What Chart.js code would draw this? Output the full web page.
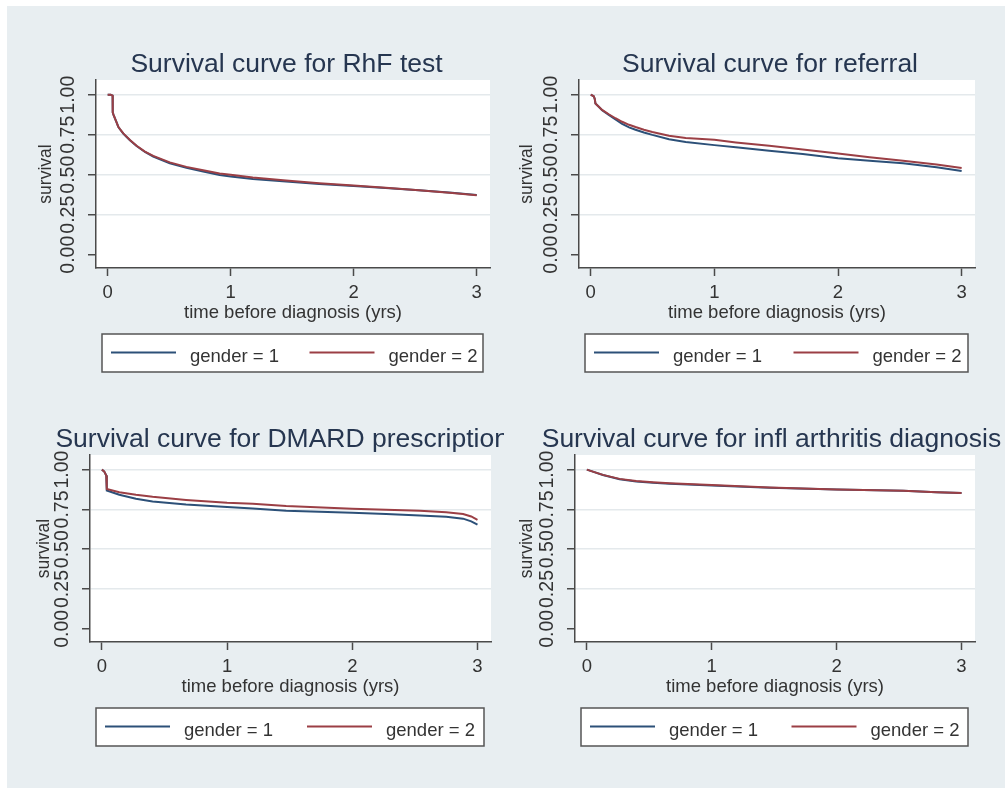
<!DOCTYPE html>
<html>
<head>
<meta charset="utf-8">
<script src="https://cdn.jsdelivr.net/npm/chart.js@4.4.1/dist/chart.umd.min.js"></script>
<style>
  body { margin: 0; background: #fff; }
  #page { position: relative; width: 1006px; height: 791px; overflow: hidden; background: #fff; }
  #bg { position: absolute; left: 7px; top: 6px; width: 998px; height: 782px; background: #e8eef1; }
  canvas { position: absolute; }
</style>
</head>
<body>
<div id="page">
  <div id="bg"></div>
  <canvas id="c1" width="503" height="389" style="left:7px;top:6px"></canvas>
  <canvas id="c2" width="495" height="389" style="left:510px;top:6px"></canvas>
  <canvas id="c3" width="497" height="393" style="left:7px;top:395px"></canvas>
  <canvas id="c4" width="495" height="393" style="left:510px;top:395px"></canvas>
</div>
<script>
// axes
const xTicks = [0, 1, 2, 3];
const yTicks = [0, 0.25, 0.5, 0.75, 1];
const xTitle = 'time before diagnosis (yrs)';
const yTitle = 'survival';
const seriesLabels = ['gender = 1', 'gender = 2'];

// RhF test
const rhfTime = [0, 0.024, 0.04, 0.041, 0.046, 0.059, 0.073, 0.086, 0.1, 0.127, 0.154, 0.181, 0.235, 0.303, 0.37, 0.505, 0.64, 0.776, 0.91, 1.0, 1.18, 1.45, 1.72, 2.0, 2.26, 2.53, 2.8, 3.0];
const rhfGender1 = [1.0, 1.0, 0.994, 0.89, 0.877, 0.852, 0.825, 0.80, 0.784, 0.757, 0.736, 0.715, 0.679, 0.642, 0.614, 0.572, 0.543, 0.52, 0.498, 0.489, 0.474, 0.457, 0.442, 0.430, 0.417, 0.403, 0.387, 0.373];
const rhfGender2 = [1.0, 1.0, 0.994, 0.89, 0.877, 0.852, 0.825, 0.80, 0.785, 0.758, 0.738, 0.717, 0.681, 0.645, 0.618, 0.577, 0.549, 0.528, 0.508, 0.50, 0.483, 0.464, 0.447, 0.432, 0.418, 0.403, 0.386, 0.371];

// referral
const refTime = [0, 0.024, 0.032, 0.038, 0.065, 0.092, 0.146, 0.2, 0.254, 0.31, 0.362, 0.43, 0.498, 0.633, 0.768, 1.0, 1.174, 1.444, 1.715, 2.0, 2.256, 2.526, 2.797, 3.0];
const refGender1 = [1.0, 0.99, 0.975, 0.945, 0.925, 0.903, 0.874, 0.845, 0.818, 0.796, 0.781, 0.764, 0.749, 0.722, 0.704, 0.685, 0.671, 0.65, 0.629, 0.603, 0.588, 0.571, 0.547, 0.523];
const refGender2 = [1.0, 0.99, 0.975, 0.945, 0.925, 0.905, 0.878, 0.853, 0.831, 0.812, 0.798, 0.781, 0.767, 0.744, 0.729, 0.718, 0.702, 0.681, 0.658, 0.633, 0.609, 0.588, 0.564, 0.542];

// DMARD prescription
const dmardTime = [0, 0.019, 0.035, 0.038, 0.04, 0.139, 0.272, 0.405, 0.672, 1.0, 1.205, 1.472, 2.0, 2.27, 2.54, 2.75, 2.885, 2.95, 3.0];
const dmardGender1 = [1.0, 0.988, 0.963, 0.95, 0.869, 0.842, 0.817, 0.800, 0.781, 0.765, 0.756, 0.742, 0.729, 0.721, 0.7125, 0.704, 0.692, 0.675, 0.654];
const dmardGender2 = [1.0, 0.988, 0.963, 0.95, 0.879, 0.858, 0.842, 0.829, 0.810, 0.792, 0.785, 0.771, 0.754, 0.748, 0.742, 0.733, 0.721, 0.706, 0.685];

// infl arthritis diagnosis
const iaTime = [0, 0.048, 0.128, 0.262, 0.395, 0.529, 0.663, 1.0, 1.464, 2.0, 2.533, 2.8, 3.0];
const iaGender1 = [1.0, 0.9875, 0.966, 0.940, 0.926, 0.917, 0.911, 0.900, 0.886, 0.875, 0.867, 0.858, 0.854];
const iaGender2 = [1.0, 0.9875, 0.967, 0.942, 0.929, 0.921, 0.915, 0.904, 0.8875, 0.875, 0.867, 0.858, 0.854];

const lineColors = ['#2c5078', '#9b3f45'];
const axisColor = '#4a4a4a';
const gridColor = '#e4e9ec';
const textColor = '#333';
const FONT = '"Liberation Sans", Arial, sans-serif';

// white plot region, panel title and boxed legend like Stata
const stataFrame = {
  id: 'stataFrame',
  beforeDraw(chart) {
    const {ctx, chartArea: a} = chart;
    ctx.save();
    ctx.fillStyle = '#fff';
    ctx.fillRect(a.left, a.top, a.right - a.left, a.bottom - a.top);
    ctx.restore();
  },
  afterDraw(chart, args, opts) {
    const {ctx, chartArea: a} = chart;
    ctx.save();
    ctx.font = '26.5px ' + FONT;
    ctx.fillStyle = '#263650';
    ctx.textAlign = 'left';
    ctx.textBaseline = 'alphabetic';
    ctx.fillText(opts.title, opts.titleX, a.top - 8);

    const bx = a.left + 6, by = a.bottom + 66;
    const bw = a.right - 7 - bx, bh = 38;
    ctx.fillStyle = '#fff';
    ctx.fillRect(bx, by, bw, bh);
    ctx.strokeStyle = '#555';
    ctx.lineWidth = 1.5;
    ctx.strokeRect(bx, by, bw, bh);
    ctx.font = '18.5px ' + FONT;
    chart.data.datasets.forEach((ds, i) => {
      const x0 = bx + 9 + i * (bw / 2 + 8);
      ctx.strokeStyle = ds.borderColor;
      ctx.lineWidth = 2;
      ctx.beginPath();
      ctx.moveTo(x0, by + 18.5);
      ctx.lineTo(x0 + 65, by + 18.5);
      ctx.stroke();
      ctx.fillStyle = textColor;
      ctx.fillText(ds.label, x0 + 79, by + 28);
    });
    ctx.restore();
  }
};

function toPoints(times, vals) {
  return times.map((t, i) => ({x: t, y: vals[i]}));
}

function makeChart(id, title, f, times, g1, g2) {
  return new Chart(document.getElementById(id), {
    type: 'line',
    data: {
      datasets: [
        {label: seriesLabels[0], data: toPoints(times, g1), borderColor: lineColors[0], order: 1},
        {label: seriesLabels[1], data: toPoints(times, g2), borderColor: lineColors[1], order: 0}
      ]
    },
    options: {
      responsive: false,
      animation: false,
      devicePixelRatio: 1,
      layout: {padding: {left: 0, top: f.top, right: f.right, bottom: f.bottom}},
      elements: {point: {radius: 0}, line: {borderWidth: 2, tension: 0}},
      plugins: {
        legend: {display: false},
        title: {display: false},
        tooltip: {enabled: false},
        stataFrame: {title: title, titleX: f.titleX}
      },
      scales: {
        x: {
          type: 'linear', min: -0.095, max: 3.108,
          afterBuildTicks: s => { s.ticks = xTicks.map(v => ({value: v})); },
          afterFit: s => { s.height = 70; },
          grid: {drawOnChartArea: false, drawTicks: true, tickLength: 8, tickColor: axisColor, tickWidth: 1.5},
          border: {display: true, color: axisColor, width: 1.5},
          ticks: {color: textColor, font: {family: FONT, size: 18.5}, padding: 6, maxRotation: 0, autoSkip: false},
          title: {display: true, text: xTitle, color: textColor, font: {family: FONT, size: 18.5}, padding: {top: 0, bottom: 14}}
        },
        y: {
          type: 'linear', min: -0.083, max: 1.092,
          afterBuildTicks: s => { s.ticks = yTicks.map(v => ({value: v})); },
          afterFit: s => { s.width = f.left; },
          grid: {
            color: c => (c.tick && c.tick.value === 0) ? 'rgba(0,0,0,0)' : gridColor,
            lineWidth: 1.5, drawTicks: true, tickLength: 8, tickColor: axisColor, tickWidth: 1.5
          },
          border: {display: true, color: axisColor, width: 1.5},
          ticks: {
            color: textColor, font: {family: FONT, size: 19.5}, padding: 0,
            minRotation: 90, maxRotation: 90, crossAlign: 'center', autoSkip: false,
            callback: v => Number(v).toFixed(2)
          },
          title: {display: true, text: yTitle, color: textColor, font: {family: FONT, size: 17.5}, padding: {top: f.yTitle - 10.5, bottom: 0}}
        }
      }
    },
    plugins: [stataFrame]
  });
}

makeChart('c1', 'Survival curve for RhF test',
  {left: 89, top: 74, right: 20, bottom: 57, titleX: 123.4, yTitle: 39},
  rhfTime, rhfGender1, rhfGender2);
makeChart('c2', 'Survival curve for referral',
  {left: 69, top: 74, right: 30, bottom: 57, titleX: 112, yTitle: 17},
  refTime, refGender1, refGender2);
makeChart('c3', 'Survival curve for DMARD prescription',
  {left: 83, top: 60, right: 13, bottom: 76, titleX: 48.4, yTitle: 37},
  dmardTime, dmardGender1, dmardGender2);
makeChart('c4', 'Survival curve for infl arthritis diagnosis',
  {left: 65, top: 60, right: 30, bottom: 76, titleX: 31.7, yTitle: 17.3},
  iaTime, iaGender1, iaGender2);
</script>
</body>
</html>
